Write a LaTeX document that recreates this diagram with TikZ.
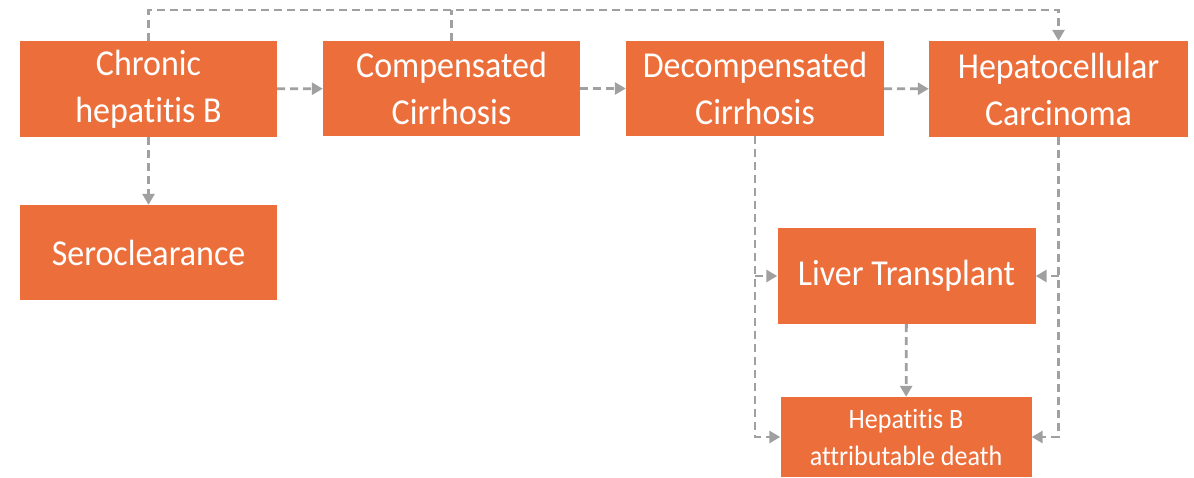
\documentclass[tikz,border=0pt]{standalone}
\usepackage{fontspec}
\setmainfont{Carlito}[Ligatures=NoCommon, FakeStretch=0.93]
\usetikzlibrary{arrows.meta}
\definecolor{boxor}{HTML}{EC6F3B}
\definecolor{lnk}{HTML}{A0A0A0}
\begin{document}
\begin{tikzpicture}[x=1pt,y=-1pt,
  stage/.style={fill=boxor, draw=none, text=white, align=center, inner sep=0pt,
    minimum width=257pt, minimum height=96pt,
    font=\fontsize{36.5}{47}\selectfont},
  small/.style={font=\fontsize{28}{37}\selectfont},
  flow/.style={draw=lnk, line width=2.8pt, dash pattern=on 8pt off 5pt,
    -{Triangle[length=11pt,width=12pt]}},
  plain/.style={draw=lnk, line width=2.8pt, dash pattern=on 8pt off 5pt}]
\useasboundingbox (0,0) rectangle (1194,478);
\node[stage] (chb) at (148.5,89) {Chronic\\hepatitis B};
\node[stage, minimum height=95pt] (cc) at (451.5,88.5) {Compensated\\Cirrhosis};
\node[stage, minimum height=95pt, minimum width=258pt] (dc) at (755,88.5) {Decompensated\\Cirrhosis};
\node[stage, minimum width=259pt] (hcc) at (1058.5,89) {Hepatocellular\\Carcinoma};
\node[stage, minimum height=95pt] (sero) at (148.5,252.5) {Seroclearance};
\node[stage, minimum width=258pt] (lt) at (906.5,276) {Liver Transplant};
\node[stage, small, minimum width=251pt, minimum height=80pt] (death) at (906,437) {Hepatitis B\\attributable death};
\coordinate (top) at (0,10);
\draw[flow] (chb) -- (cc);
\draw[flow] (cc) -- (dc);
\draw[flow] (dc) -- (hcc);
\draw[flow] (chb) -- (sero);
\draw[flow] (chb.north) -- (chb.north |- top) -| (hcc.north);
\draw[plain] (cc.north) -- (cc.north |- top);
\draw[flow] (dc.south) |- (death.west);
\draw[flow] (dc.south |- lt.west) -- (lt.west);
\draw[flow] (hcc.south) |- (death.east);
\draw[flow] (hcc.south |- lt.east) -- (lt.east);
\draw[flow] (lt) -- (death);
\end{tikzpicture}
\end{document}
